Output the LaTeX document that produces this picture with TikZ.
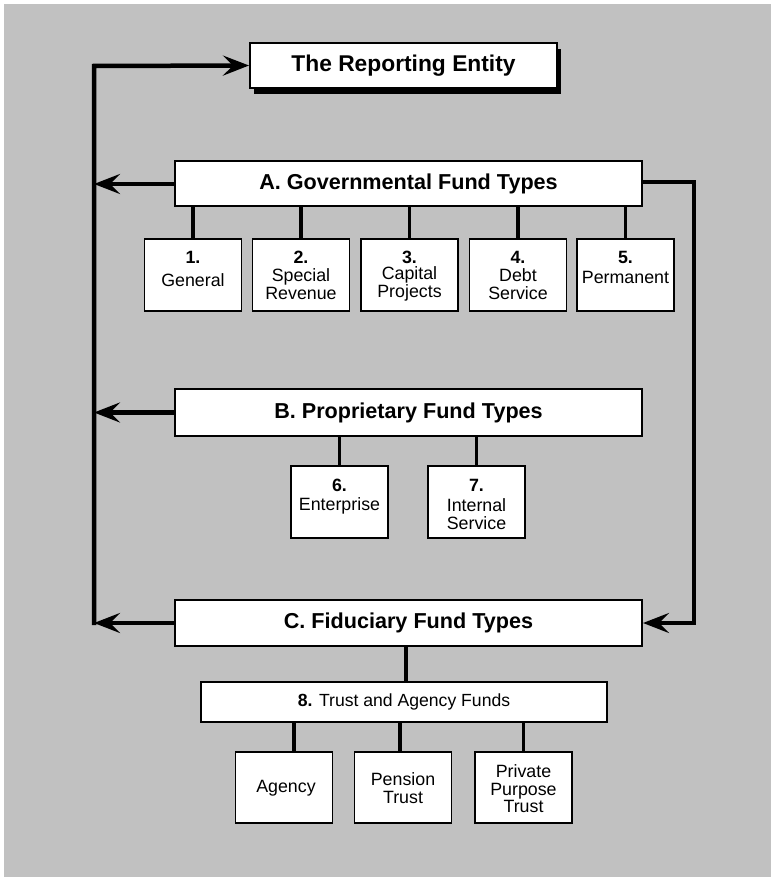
\documentclass[tikz,border=0pt]{standalone}
\usepackage{fontspec}
\setmainfont{Liberation Sans}
\usetikzlibrary{arrows.meta,shadows}
\definecolor{bgc}{RGB}{193,193,193}
\begin{document}
\begin{tikzpicture}[x=1pt,y=-1pt,
  hbox/.style={draw=black, fill=white, line width=2pt, inner sep=0pt, font=\fontsize{21.6}{24}\selectfont\bfseries},
  fbox/.style={draw=black, fill=white, line width=1.8pt, inner sep=0pt, minimum width=97pt, minimum height=72pt},
  ftxt/.style={inner sep=0pt, align=center, font=\fontsize{17.8}{18}\selectfont},
  num/.style={inner sep=0pt, font=\fontsize{17.8}{18}\selectfont\bfseries},
  arr/.style={line width=4.5pt, line join=miter, -{Stealth[length=26pt,width=20pt,inset=10pt]}},
  stub/.style={line width=3.8pt}]
\useasboundingbox (0,0) rectangle (771,877);
\fill[white] (0,0) rectangle (771,877);
\fill[bgc] (4,4) rectangle (771,877);

% main boxes
\node[hbox, font=\fontsize{22.8}{24}\selectfont\bfseries, minimum width=307pt, minimum height=45pt,
  drop shadow={shadow xshift=4pt, shadow yshift=-6pt, fill=black, opacity=1, draw=none}] (re) at (403.5,65.5) {The Reporting Entity};
\node[hbox, minimum width=467pt, minimum height=45pt] (A) at (408.5,184) {A. Governmental Fund Types};
\node[hbox, minimum width=467pt, minimum height=47pt] (B) at (408.5,412.5) {B. Proprietary Fund Types};
\node[hbox, minimum width=467pt, minimum height=46pt] (C) at (408.5,623) {C. Fiduciary Fund Types};
\node[hbox, font=\fontsize{17.6}{18}\selectfont, line width=1.8pt, minimum width=406pt, minimum height=40pt] (E) at (404,702) {\textbf{8.} Trust and Agency Funds};

% governmental funds
\node[fbox] (b1) at (193,275) {};
\node[fbox] (b2) at (301,275) {};
\node[fbox] (b3) at (409.5,275) {};
\node[fbox] (b4) at (518,275) {};
\node[fbox] (b5) at (625.5,275) {};
\node[num] (n1) at (193,257) {1.};
\node[num] (n2) at (301,257) {2.};
\node[num] (n3) at (409.5,257) {3.};
\node[num] (n4) at (518,257) {4.};
\node[num] (n5) at (625.5,257) {5.};
\node[ftxt] (t1) at (193,280) {General};
\node[ftxt] (t2) at (301,284) {Special\\Revenue};
\node[ftxt] (t3) at (409.5,284) {Capital\\Projects};
\node[ftxt] (t4) at (518,284) {Debt\\Service};
\node[ftxt] (t5) at (625.5,277) {Permanent};

% proprietary funds
\node[fbox] (b6) at (339.5,502) {};
\node[fbox] (b7) at (476.5,502) {};
\node[num] (n6) at (339.5,485) {6.};
\node[num] (n7) at (476.5,485) {7.};
\node[ftxt] (t6) at (339.5,506) {Enterprise};
\node[ftxt] (t7) at (476.5,514.5) {Internal\\Service};

% fiduciary funds
\node[fbox, minimum height=71pt] (ag) at (284,787.5) {};
\node[fbox, minimum height=71pt] (pe) at (403,787.5) {};
\node[fbox, minimum height=71pt] (pp) at (523.5,787.5) {};
\node[ftxt] (tag) at (286,788) {Agency};
\node[ftxt] (tpe) at (403,788) {Pension\\Trust};
\node[ftxt, font=\fontsize{17.8}{17.5}\selectfont] (tpp) at (523.5,789) {Private\\Purpose\\Trust};

% stubs
\foreach \b in {b1,b2,b3,b4,b5} \draw[stub] (\b.north) -- (\b.north |- A.south);
\foreach \b in {b6,b7} \draw[stub] (\b.north) -- (\b.north |- B.south);
\draw[stub] ([xshift=2pt]E.north) -- ([xshift=2pt]E.north |- C.south);
\draw[stub] ([xshift=10pt]ag.north) -- ([xshift=10pt]ag.north |- E.south);
\draw[stub] ([xshift=-3pt]pe.north) -- ([xshift=-3pt]pe.north |- E.south);
\draw[stub] (pp.north) -- (pp.north |- E.south);

% left collector
\coordinate (Ltop) at (94,66);
\coordinate (Lbot) at (94,625);
\coordinate (R) at (694,0);
\draw[arr] (Lbot) -- (Ltop) -- (re.west);
\draw[arr] (A.west) -- (A.west -| Ltop);
\draw[arr] (B.west) -- (B.west -| Ltop);
\draw[arr] (C.west) -- (C.west -| Ltop);
% right return
\draw[arr] ([yshift=2pt]A.east) -- ([yshift=2pt]A.east -| R) -- (C.east -| R) -- (C.east);
\end{tikzpicture}
\end{document}
